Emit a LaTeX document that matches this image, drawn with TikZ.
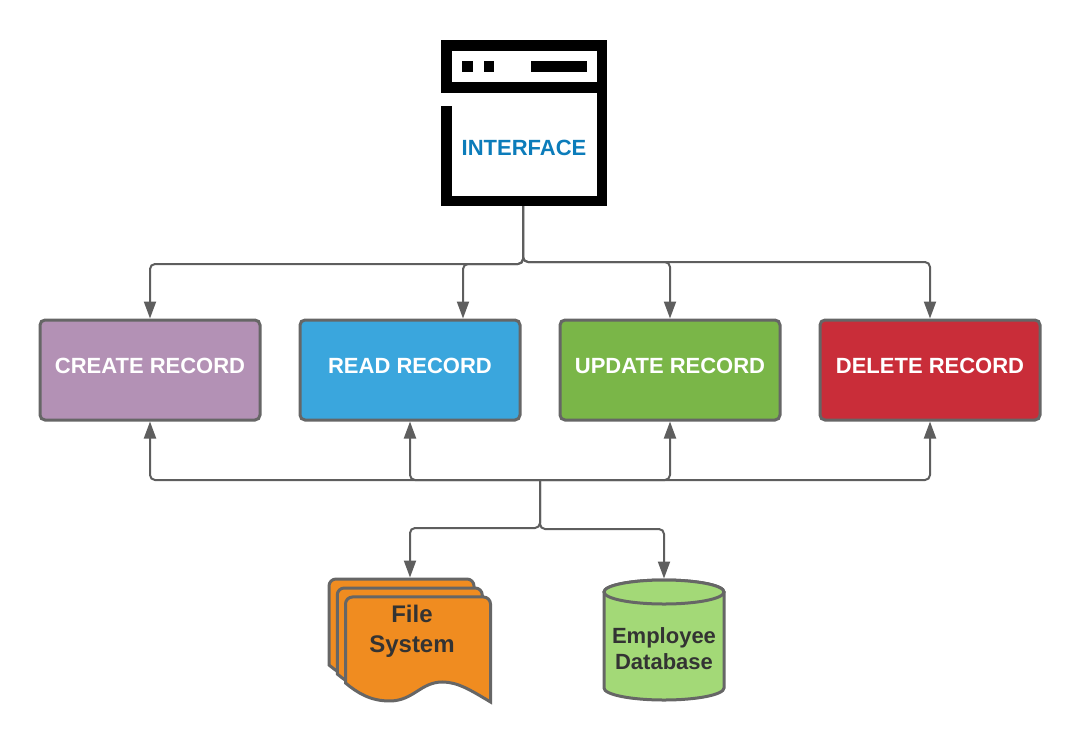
\documentclass[tikz,border=0pt]{standalone}
\usepackage{fontspec}
\setmainfont{Liberation Sans}
\usetikzlibrary{arrows.meta, calc, positioning}
\definecolor{myOutline}{HTML}{666666}
\definecolor{myLink}{HTML}{5E5E5E}
\definecolor{myCreate}{HTML}{B391B5}
\definecolor{myRead}{HTML}{3AA6DD}
\definecolor{myUpdate}{HTML}{7AB648}
\definecolor{myDelete}{HTML}{C92D39}
\definecolor{myFiles}{HTML}{F08C20}
\definecolor{myDb}{HTML}{A3D977}
\definecolor{myDark}{HTML}{333333}
\definecolor{myIface}{HTML}{0C7CBA}
\newlength{\myBoxWidth}
\setlength{\myBoxWidth}{220pt}
\newlength{\myBoxHeight}
\setlength{\myBoxHeight}{100pt}

\begin{document}
\begin{tikzpicture}[x=1pt, y=1pt,
                    my box/.style={
                      draw=myOutline, line width=3pt, rounded corners=5pt,
                      outer sep=0pt, text=white, text depth=8pt,
                      minimum width=\myBoxWidth, minimum height=\myBoxHeight,
                      font=\fontsize{22}{26}\selectfont\bfseries},
                    my link/.style={
                      -{Triangle[length=17pt, width=12pt]},
                      draw=myLink, line width=2pt, rounded corners=5pt,
                      shorten >=1.5pt},
                    my page/.style={
                      draw=myOutline, fill=myFiles, line width=3pt,
                      line join=miter},
                    my drum/.style={
                      draw=myOutline, fill=myDb, line width=3pt}]

\path[use as bounding box] (0,0) rectangle (1080,-740);

% window icon
\node (iface) [minimum size=166pt, inner sep=0pt, outer sep=0pt] at (524,-123) {};
\fill[black] (iface.north west) rectangle ++(166,-52.5);
\fill[white] ([shift={(10.5,-11)}]iface.north west) rectangle ++(145,-31);
\fill[black] ([shift={(155.5,-52.5)}]iface.north west) rectangle (iface.south east);
\fill[black] ([shift={(0,-66)}]iface.north west) rectangle ++(10.5,-100);
\fill[black] ([shift={(0,10.5)}]iface.south west) rectangle (iface.south east);
\fill[black] ([shift={(21,-21)}]iface.north west) rectangle ++(10.5,-11);
\fill[black] ([shift={(42.5,-21)}]iface.north west) rectangle ++(10.5,-11);
\fill[black] ([shift={(89.5,-21)}]iface.north west) rectangle ++(56,-11);
\node (ifacelabel) [text=myIface, font=\fontsize{22}{26}\selectfont\bfseries]
  at ([yshift=-25pt]iface.center) {INTERFACE};

% the four operations
\node (create) [my box, fill=myCreate] at (150,-370) {CREATE RECORD};
\node (read)   [my box, fill=myRead,   right=40pt of create] {READ RECORD};
\node (update) [my box, fill=myUpdate, right=40pt of read]   {UPDATE RECORD};
\node (delete) [my box, fill=myDelete, right=40pt of update] {DELETE RECORD};

% stores
\node (files) [minimum width=162pt, minimum height=122pt, inner sep=0pt,
               outer sep=0pt] at (410,-640) {};
\foreach \myShift in {0, 8.25, 16.5} {
  \draw[my page, shift={($(files.north west)+(\myShift,-\myShift*1.09)$)}]
    (0,-86) -- (0,-7) arc[start angle=180, end angle=90, radius=7] --
    (138,0) arc[start angle=90, end angle=0, radius=7] -- (145,-105)
    .. controls (125,-93) and (112,-85) .. (97,-85)
    .. controls (75,-85) and (68,-104) .. (44,-104)
    .. controls (25,-104) and (12,-96) .. (0,-86) -- cycle;
}
\node (fileslabel) [align=center, text=myDark,
                    font=\fontsize{24}{30}\selectfont\bfseries]
  at ([xshift=2pt, yshift=9pt]files.center) {File\\System};

\node (db) [minimum size=120pt, inner sep=0pt, outer sep=0pt] at (664,-640) {};
\draw[my drum]
  ([yshift=-12pt]db.north west) -- ([yshift=12pt]db.south west)
  arc[start angle=180, end angle=360, x radius=60, y radius=12] --
  ([yshift=-12pt]db.north east)
  arc[start angle=0, end angle=180, x radius=60, y radius=12] -- cycle;
\draw[my drum] ([yshift=-12pt]db.north)
  ellipse[x radius=60, y radius=12];
\node (dblabel) [align=center, text=myDark,
                 font=\fontsize{22}{26}\selectfont\bfseries]
  at ([yshift=-9pt]db.center) {Employee\\Database};

% links from the interface
\coordinate (drop) at ([xshift=-1pt]iface.south);
\draw[my link] (drop) |- ($(create.north)+(0,56)$) -- (create.north);
\draw[my link] (drop) |- ($(read.north)+(53,56)$) -- ([xshift=53pt]read.north);
\draw[my link] (drop) |- ($(update.north)+(0,58)$) -- (update.north);
\draw[my link] (drop) |- ($(delete.north)+(0,58)$) -- (delete.north);

% links from the stores
\coordinate (hub) at (540,-480);
\draw[my link] (hub) -| (create.south);
\draw[my link] (hub) -| (read.south);
\draw[my link] (hub) -| (update.south);
\draw[my link] (hub) -| (delete.south);
\draw[my link] (hub) |- ($(files.north)+(0,51)$) -- (files.north);
\draw[my link] (hub) |- ($(db.north)+(0,51)$) -- (db.north);
\end{tikzpicture}
\end{document}
